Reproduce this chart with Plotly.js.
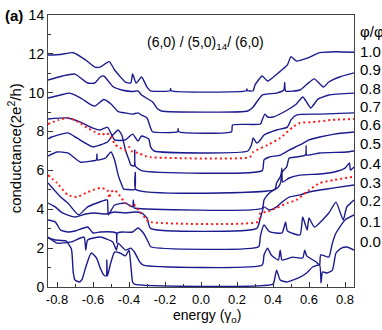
<!DOCTYPE html>
<html>
<head>
<meta charset="utf-8">
<script src="https://cdn.plot.ly/plotly-3.0.1.min.js"></script>
<style>
  html, body { margin: 0; padding: 0; background: #fff; }
  #graph { width: 382px; height: 330px; }
</style>
</head>
<body>
<div id="graph"></div>
<script>
/* conductance curves, one per flux value */
const phi10x = [-0.85,-0.78,-0.71,-0.64,-0.59,-0.56,-0.51,-0.48,-0.42,-0.39,-0.38,-0.36,-0.33,-0.30,-0.28,-0.172,-0.169,-0.166,0.252,0.255,0.258,0.29,0.30,0.34,0.37,0.44,0.48,0.50,0.53,0.59,0.66,0.75,0.85];
const phi10y = [11.94,11.97,12.06,11.68,11.32,11.32,11.6,11.17,10.55,10.5,10.96,10.5,10.81,10.29,10.1,10.1,10.22,10.1,10.1,10.2,10.1,10.1,10.4,10.86,10.6,11.1,11.43,11.86,11.63,11.78,12.06,12.11,12.08];

const phi09x = [-0.85,-0.77,-0.70,-0.63,-0.59,-0.56,-0.54,-0.49,-0.44,-0.38,-0.35,-0.33,-0.27,-0.24,-0.22,0.26,0.29,0.34,0.42,0.46,0.465,0.47,0.55,0.59,0.63,0.68,0.71,0.77,0.85];
const phi09y = [10.65,10.86,10.96,10.50,10.50,10.81,10.86,10.32,10.14,10.06,10.09,9.88,9.53,9.16,9.06,9.06,9.27,9.88,9.98,10.14,10.53,10.09,10.14,10.45,10.71,10.29,10.55,10.81,11.02];

const phi08x = [-0.85,-0.78,-0.73,-0.67,-0.61,-0.59,-0.54,-0.50,-0.46,-0.42,-0.38,-0.35,-0.33,-0.30,-0.28,-0.27,-0.130,-0.127,-0.124,0.17,0.175,0.33,0.34,0.355,0.37,0.40,0.48,0.53,0.565,0.59,0.61,0.65,0.71,0.85];
const phi08y = [9.73,9.88,9.98,9.73,9.37,9.31,9.65,9.42,9.03,8.96,8.90,8.96,8.85,8.70,8.18,7.99,7.99,8.15,7.99,7.99,8.34,8.39,8.60,8.90,8.75,8.75,9.11,9.42,9.78,9.47,9.21,9.67,9.88,9.98];

const phi07x = [-0.85,-0.74,-0.67,-0.60,-0.56,-0.52,-0.48,-0.42,-0.38,-0.35,-0.33,-0.29,-0.28,-0.26,0.26,0.28,0.29,0.31,0.33,0.35,0.42,0.48,0.50,0.53,0.66,0.85];
const phi07y = [8.65,8.70,8.49,8.18,8.08,8.23,7.57,7.57,7.87,7.51,7.77,7.62,7.21,7.00,7.00,7.31,7.67,7.41,7.57,7.82,8.08,8.23,8.60,8.85,8.90,8.96];

const phi06x = [-0.85,-0.83,-0.74,-0.69,-0.60,-0.56,-0.52,-0.49,-0.46,-0.44,-0.42,-0.40,-0.39,-0.371,-0.368,-0.365,-0.33,0.34,0.35,0.38,0.44,0.49,0.55,0.60,0.66,0.74,0.85];
const phi06y = [7.62,7.72,7.93,7.67,7.21,7.31,7.46,7.82,8.08,7.82,7.05,6.54,6.28,6.23,7.05,6.23,5.99,5.99,6.54,6.69,6.79,7.05,7.31,7.57,7.72,7.87,7.98];

const phi05x = [-0.85,-0.80,-0.74,-0.67,-0.61,-0.581,-0.578,-0.575,-0.53,-0.50,-0.48,-0.46,-0.44,-0.43,-0.41,-0.368,-0.365,-0.362,0.41,0.42,0.44,0.45,0.476,0.49,0.53,0.581,0.584,0.587,0.66,0.81,0.85];
const phi05y = [6.74,6.95,6.90,6.43,6.48,6.54,6.85,6.54,6.64,6.95,6.54,5.76,5.25,5.04,5.02,5.02,5.90,5.02,5.02,5.35,5.66,5.92,6.18,6.64,6.69,6.79,7.26,6.79,6.90,6.95,7.00];

const phi04x = [-0.85,-0.78,-0.74,-0.68,-0.63,-0.53,-0.52,-0.515,-0.48,-0.42,-0.38,-0.376,-0.371,-0.365,0.34,0.35,0.38,0.43,0.443,0.449,0.454,0.49,0.55,0.66,0.74,0.80,0.825,0.83,0.85];
const phi04y = [5.35,4.63,4.32,3.71,4.12,4.48,4.48,3.71,4.22,4.32,4.12,4.48,4.07,4.05,4.05,4.48,4.84,5.15,5.40,6.12,5.40,5.61,5.76,5.82,5.92,6.12,6.38,6.02,6.18];

const phi03x = [-0.85,-0.81,-0.77,-0.70,-0.64,-0.59,-0.53,-0.48,-0.42,-0.37,-0.33,-0.30,-0.28,0.31,0.33,0.35,0.38,0.42,0.45,0.49,0.55,0.60,0.66,0.74,0.85];
const phi03y = [4.32,4.12,3.81,3.60,3.76,3.81,3.76,3.86,3.81,3.86,3.81,3.55,3.02,3.02,3.55,4.12,3.96,4.12,4.37,4.63,4.74,4.89,4.99,5.10,5.25];

const phi02x = [-0.85,-0.81,-0.78,-0.74,-0.70,-0.63,-0.60,-0.56,-0.49,-0.471,-0.468,-0.465,-0.44,-0.38,-0.35,-0.32,-0.29,-0.28,0.32,0.33,0.35,0.38,0.45,0.47,0.48,0.55,0.565,0.59,0.60,0.63,0.71,0.75,0.79,0.81,0.85];
const phi02y = [3.45,3.35,2.93,2.83,2.88,3.09,2.78,2.83,2.83,2.78,2.26,2.78,2.83,2.83,3.04,2.78,2.26,2.07,2.07,2.62,3.19,2.85,2.78,3.35,2.88,2.68,3.60,2.93,3.55,3.09,3.81,4.37,3.45,4.12,4.48];

const phi01x = [-0.85,-0.80,-0.72,-0.65,-0.64,-0.63,-0.56,-0.49,-0.47,-0.46,-0.42,-0.39,-0.37,-0.34,-0.32,0.34,0.35,0.37,0.39,0.43,0.44,0.45,0.51,0.565,0.576,0.587,0.64,0.659,0.665,0.71,0.73,0.75,0.80,0.85];
const phi01y = [2.57,2.26,2.32,2.57,1.90,2.42,2.57,2.32,1.90,2.26,1.90,2.00,1.80,1.29,1.13,1.13,1.65,2.00,1.65,1.39,1.90,1.39,1.54,1.49,1.90,1.60,1.29,1.13,1.65,1.54,2.26,2.78,3.45,3.71];

const phi00x = [-0.85,-0.81,-0.75,-0.72,-0.71,-0.70,-0.675,-0.66,-0.64,-0.61,-0.58,-0.56,-0.54,-0.526,-0.523,-0.520,-0.50,-0.48,-0.45,-0.42,-0.40,-0.39,-0.38,-0.37,0.40,0.41,0.42,0.44,0.476,0.55,0.587,0.62,0.659,0.667,0.675,0.70,0.73,0.75,0.78,0.81,0.85];
const phi00y = [2.52,2.42,2.37,1.96,0.77,0.36,0.26,0.41,1.03,1.75,1.49,0.98,0.62,0.57,1.39,0.57,1.29,1.80,1.75,1.60,1.90,1.13,0.26,0.15,0.15,0.46,0.87,0.36,0.26,0.51,0.72,1.03,1.13,0.21,0.77,0.72,0.87,1.75,2.00,2.06,1.90];

// the two red dotted curves
const redUpx = [-0.85,-0.79,-0.74,-0.68,-0.63,-0.59,-0.55,-0.53,-0.50,-0.48,-0.46,-0.42,-0.40,-0.38,-0.35,-0.31,-0.28,0.27,0.29,0.37,0.44,0.51,0.55,0.62,0.73,0.85];
const redUpy = [8.39,8.60,8.70,8.49,8.18,7.98,7.82,7.93,7.77,7.36,7.21,7.05,7.21,6.95,6.90,6.74,6.68,6.68,6.95,7.31,7.67,8.23,8.44,8.49,8.60,8.65];
const redLowx = [-0.85,-0.80,-0.74,-0.69,-0.64,-0.60,-0.56,-0.52,-0.51,-0.50,-0.48,-0.45,-0.42,-0.39,-0.37,-0.34,-0.31,-0.29,0.32,0.33,0.37,0.42,0.48,0.53,0.60,0.66,0.74,0.85];
const redLowy = [5.76,5.35,4.74,4.63,4.84,4.99,5.10,4.99,4.58,4.89,4.99,4.68,4.32,4.17,4.22,3.86,3.55,3.36,3.36,3.81,3.88,4.07,4.32,4.48,4.99,5.35,5.51,5.68];

const blueX = [phi00x,phi01x,phi02x,phi03x,phi04x,phi05x,phi06x,phi07x,phi08x,phi09x,phi10x];
const blueY = [phi00y,phi01y,phi02y,phi03y,phi04y,phi05y,phi06y,phi07y,phi08y,phi09y,phi10y];

const phiLabels = ['1.0','0.9','0.8','0.7','0.6','0.5','0.4','0.3','0.2','0.1','0.0'];
const phiLabelY = [12.10,11.17,10.23,9.31,8.34,7.39,6.38,5.40,4.45,3.38,2.32];

const xTicks = [-0.8,-0.6,-0.4,-0.2,0.0,0.2,0.4,0.6,0.8];
const xTickText = ['-0.8','-0.6','-0.4','-0.2','0.0','0.2','0.4','0.6','0.8'];
const yTicks = [0,2,4,6,8,10,12,14];

const FONT = 'Liberation Sans, Arial, sans-serif';
const BLUE = '#1b1b8e';
const RED = '#ff1a1a';

const traces = [];
for (let i = 0; i < blueX.length; i++) {
    traces.push({
        type: 'scatter', mode: 'lines',
        x: blueX[i], y: blueY[i],
        line: {color: BLUE, width: 1.4, shape: 'spline', smoothing: 0.5},
        hoverinfo: 'skip'
    });
}
traces.push({type: 'scatter', mode: 'lines', x: redUpx, y: redUpy,
    line: {color: RED, width: 2, dash: '2px,3px', shape: 'spline', smoothing: 0.5}, hoverinfo: 'skip'});
traces.push({type: 'scatter', mode: 'lines', x: redLowx, y: redLowy,
    line: {color: RED, width: 2, dash: '2px,3px', shape: 'spline', smoothing: 0.5}, hoverinfo: 'skip'});

const annotations = [
    {text: '<b>(a)</b>', xref: 'paper', yref: 'paper', x: -0.148, y: 1.0,
     xanchor: 'left', yanchor: 'middle', showarrow: false, font: {size: 15, color: '#000'}},
    {text: '(6,0) / (5,0)<sub>14</sub>/ (6,0)', xref: 'paper', yref: 'y', x: 0.515, y: 12.55,
     xanchor: 'center', yanchor: 'middle', showarrow: false, font: {size: 14, color: '#000'}},
    {text: 'φ/φ<sub>o</sub>', xref: 'paper', yref: 'y', x: 1.013, y: 13.1,
     xanchor: 'left', yanchor: 'middle', showarrow: false, font: {size: 15, color: '#000'}},
    {text: 'energy (γ<sub>o</sub>)', xref: 'paper', yref: 'paper', x: 0.52, y: -0.108,
     xanchor: 'center', yanchor: 'middle', showarrow: false, font: {size: 14, color: '#000'}},
    {text: 'conductance(2e<sup>2</sup>/h)', xref: 'paper', yref: 'paper', x: -0.111, y: 0.51,
     xanchor: 'center', yanchor: 'middle', textangle: -90, showarrow: false, font: {size: 15, color: '#000'}}
];
for (let k = 0; k < phiLabels.length; k++) {
    annotations.push({text: phiLabels[k], xref: 'paper', yref: 'y', x: 1.013, y: phiLabelY[k],
        xanchor: 'left', yanchor: 'middle', showarrow: false, font: {size: 15, color: '#000'}});
}

const layout = {
    width: 382, height: 330,
    margin: {l: 48, r: 28, t: 15, b: 43},
    paper_bgcolor: '#fff', plot_bgcolor: '#fff',
    showlegend: false,
    font: {family: FONT, size: 13, color: '#000'},
    xaxis: {
        range: [-0.85, 0.85], tickvals: xTicks, ticktext: xTickText,
        ticks: 'inside', ticklen: 5, tickcolor: '#333', showgrid: false, zeroline: false,
        showline: true, linecolor: '#444', linewidth: 1, mirror: true,
        minor: {dtick: 0.1, tick0: 0, ticks: 'inside', ticklen: 3, tickcolor: '#333'},
        tickfont: {size: 13}
    },
    yaxis: {
        range: [0, 14], tickvals: yTicks,
        ticks: 'inside', ticklen: 5, tickcolor: '#333', showgrid: false, zeroline: false,
        showline: true, linecolor: '#444', linewidth: 1, mirror: true,
        minor: {dtick: 1, tick0: 0, ticks: 'inside', ticklen: 3, tickcolor: '#333'},
        tickfont: {size: 14}
    },
    annotations: annotations
};

Plotly.newPlot('graph', traces, layout, {staticPlot: true});
</script>
</body>
</html>
